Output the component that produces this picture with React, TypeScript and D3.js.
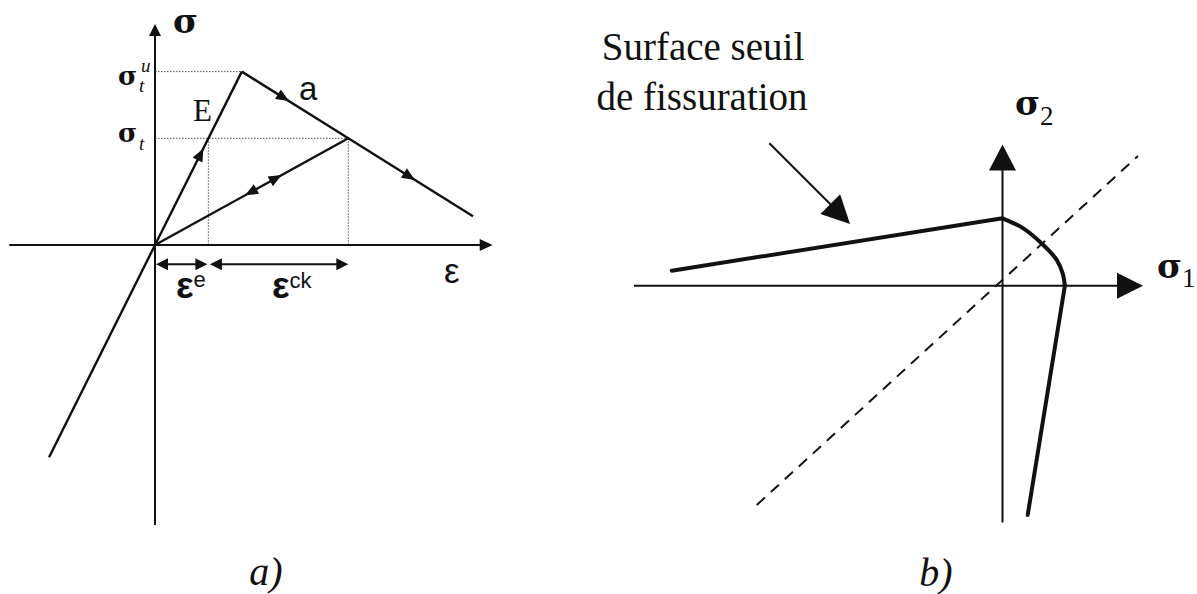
import React from 'react';
import * as d3 from 'd3';

// ---------- (a) strain–stress diagram, normalised so the unloading point is (1, 1) ----------
const leftAxisX: number[] = [-0.754, 1.747];
const leftAxisY: number[] = [-2.624, 2.071];
const elasticLine: [number, number][] = [[-0.548, -1.99], [0, 0], [0.449, 1.625]];
const softeningLine: [number, number][] = [[0.449, 1.625], [1.0, 1.0], [1.645, 0.27]];
const unloadLine: [number, number][] = [[0, 0], [1.0, 1.0]];
const peakPoint: [number, number] = [0.449, 1.625];
const sigmaTPoint: [number, number] = [0.276, 1.0];
const unloadPoint: [number, number] = [1.0, 1.0];
const elasticArrowsT: number[] = [0.557];
const softeningArrowsT: number[] = [0.204, 0.749];
const unloadArrows = [{ t: 0.466, dir: -1 }, { t: 0.655, dir: 1 }];
const dimY = -0.181;

// ---------- (b) crack threshold surface in principal stress plane ----------
const rightAxisX: number[] = [-5.85, 2.23];
const rightAxisY: number[] = [-3.76, 2.24];
const surfaceLeft: [number, number][] = [[-5.25, 0.238], [0, 1.07]];
const surfaceCurve: [number, number][] = [[0, 1.07], [0.33, 0.91], [0.648, 0.646], [0.86, 0.41], [0.955, 0.197], [0.99, 0]];
const surfaceLower: [number, number][] = [[0.99, 0], [0.4, -3.64]];
const bisector: [number, number][] = [[-3.9, -3.48], [2.15, 2.06]];
const pointer: [number, number][] = [[-3.70, 2.26], [-2.42, 0.98]];
const surfaceLabel: string[] = ['Surface seuil', 'de fissuration'];

const xL = d3.scaleLinear().domain([0, 1]).range([155, 348.3]);
const yL = d3.scaleLinear().domain([0, 1]).range([245, 138.3]);
const xR = d3.scaleLinear().domain([0, 1]).range([1002.5, 1065.5]);
const yR = d3.scaleLinear().domain([0, 1]).range([285.7, 222.7]);

const SERIF = '"Liberation Serif", "Times New Roman", serif';
const GREEK = '"DejaVu Serif", "Liberation Serif", serif';
const SANS = '"Liberation Sans", Arial, sans-serif';

type P = [number, number];

function head(tip: P, from: P, L: number, W: number): string {
  const dx = tip[0] - from[0], dy = tip[1] - from[1];
  const n = Math.hypot(dx, dy) || 1;
  const ux = dx / n, uy = dy / n;
  const bx = tip[0] - L * ux, by = tip[1] - L * uy;
  return `M${tip[0]},${tip[1]}L${bx - W * uy},${by + W * ux}L${bx + W * uy},${by - W * ux}Z`;
}

function lerp(a: P, b: P, t: number): P {
  return [a[0] + (b[0] - a[0]) * t, a[1] + (b[1] - a[1]) * t];
}

export default function App() {
  const lineL = d3.line<P>().x(d => xL(d[0])).y(d => yL(d[1]));
  const lineR = d3.line<P>().x(d => xR(d[0])).y(d => yR(d[1]));
  const curveR = d3.line<P>().x(d => xR(d[0])).y(d => yR(d[1])).curve(d3.curveCatmullRom.alpha(0.5));

  const pL = (d: P): P => [xL(d[0]), yL(d[1])];
  const pR = (d: P): P => [xR(d[0]), yR(d[1])];

  const o = pL([0, 0]);
  const pk = pL(peakPoint);
  const st = pL(sigmaTPoint);
  const up = pL(unloadPoint);
  const softEnd = pL(softeningLine[2]);

  const inline: string[] = [];
  elasticArrowsT.forEach(t => {
    const tip = lerp(o, pk, t);
    inline.push(head(tip, o, 13, 5.5));
  });
  softeningArrowsT.forEach(t => {
    const tip = lerp(pk, softEnd, t);
    inline.push(head(tip, pk, 13, 5.5));
  });
  unloadArrows.forEach(a => {
    const tip = lerp(o, up, a.t);
    inline.push(head(tip, a.dir > 0 ? o : up, 13, 5.5));
  });

  const dimYp = yL(dimY);
  const e0 = xL(0), e1 = st[0], e2 = up[0];

  const axL = { x0: xL(leftAxisX[0]), x1: xL(leftAxisX[1]), y0: yL(leftAxisY[0]), y1: yL(leftAxisY[1]) };
  const axR = { x0: xR(rightAxisX[0]), x1: xR(rightAxisX[1]), y0: yR(rightAxisY[0]), y1: yR(rightAxisY[1]) };
  const oR = pR([0, 0]);

  const pt0 = pR(pointer[0]);
  const pt1 = pR(pointer[1]);
  const ptBase = lerp(pt1, pt0, 26 / Math.hypot(pt1[0] - pt0[0], pt1[1] - pt0[1]));

  return (
    <svg width={1197} height={594} style={{ position: 'absolute', left: 0, top: 0, background: '#fff' }}>
      {/* ===== (a) ===== */}
      <g stroke="#555" strokeWidth={1} strokeDasharray="1.5,1.5" fill="none">
        <line x1={o[0]} y1={pk[1]} x2={pk[0]} y2={pk[1]} />
        <line x1={o[0]} y1={up[1]} x2={up[0]} y2={up[1]} />
        <line x1={st[0]} y1={st[1]} x2={st[0]} y2={o[1]} />
        <line x1={up[0]} y1={up[1]} x2={up[0]} y2={o[1]} />
      </g>
      <g stroke="#111" strokeWidth={2} fill="none">
        <line x1={axL.x0} y1={o[1]} x2={axL.x1 - 10} y2={o[1]} />
        <line x1={o[0]} y1={axL.y0} x2={o[0]} y2={axL.y1 + 10} />
      </g>
      <path d={head([axL.x1, o[1]], [axL.x0, o[1]], 13, 6)} fill="#111" />
      <path d={head([o[0], axL.y1], [o[0], axL.y0], 12, 6)} fill="#111" />
      <g stroke="#111" strokeWidth={2.4} fill="none" strokeLinejoin="miter">
        <path d={lineL(elasticLine) || ''} />
        <path d={lineL(softeningLine) || ''} />
        <path d={lineL(unloadLine) || ''} />
      </g>
      {inline.map((d, i) => <path key={i} d={d} fill="#111" />)}
      <g stroke="#111" strokeWidth={2} fill="none">
        <line x1={e0 + 8} y1={dimYp} x2={e1 - 8} y2={dimYp} />
        <line x1={e1 + 9} y1={dimYp} x2={e2 - 8} y2={dimYp} />
      </g>
      <g fill="#111">
        <path d={head([e0 + 1, dimYp], [e1, dimYp], 12, 6)} />
        <path d={head([e1 - 1, dimYp], [e0, dimYp], 12, 6)} />
        <path d={head([e1 + 1.5, dimYp], [e2, dimYp], 12, 6)} />
        <path d={head([e2, dimYp], [e1, dimYp], 12, 6)} />
      </g>
      <g fill="#111">
        <text x={o[0] + 18} y={33} fontFamily={GREEK} fontWeight="bold" fontSize={34}>σ</text>
        <text x={118} y={pk[1] + 13} fontFamily={GREEK} fontWeight="bold" fontSize={26}>σ</text>
        <text x={139} y={pk[1] + 20} fontFamily={SERIF} fontStyle="italic" fontSize={19}>t</text>
        <text x={141} y={pk[1]} fontFamily={SERIF} fontStyle="italic" fontSize={19}>u</text>
        <text x={118} y={up[1] + 4} fontFamily={GREEK} fontWeight="bold" fontSize={26}>σ</text>
        <text x={139} y={up[1] + 12} fontFamily={SERIF} fontStyle="italic" fontSize={19}>t</text>
        <text x={193} y={121} fontFamily={SERIF} fontSize={31}>E</text>
        <text x={299} y={100} fontFamily={SANS} fontSize={33}>a</text>
        <text x={444} y={283} fontFamily={SANS} fontSize={35}>ε</text>
        <text x={176} y={298} fontFamily={SANS} fontSize={37} fontWeight={600}>ε<tspan fontSize={22} fontWeight={400} dy={-11}>e</tspan></text>
        <text x={272} y={298} fontFamily={SANS} fontSize={37} fontWeight={600}>ε<tspan fontSize={22} fontWeight={400} dy={-10}>ck</tspan></text>
        <text x={266} y={585} textAnchor="middle" fontFamily={SERIF} fontStyle="italic" fontSize={40}>a)</text>
      </g>

      {/* ===== (b) ===== */}
      <g stroke="#111" strokeWidth={2} fill="none">
        <line x1={axR.x0} y1={oR[1]} x2={axR.x1 - 20} y2={oR[1]} />
        <line x1={oR[0]} y1={axR.y0} x2={oR[0]} y2={axR.y1 + 20} />
      </g>
      <path d={head([axR.x1, oR[1]], [axR.x0, oR[1]], 26, 13)} fill="#111" />
      <path d={head([oR[0], axR.y1], [oR[0], axR.y0], 26, 13.5)} fill="#111" />
      <path d={lineR(bisector) || ''} stroke="#111" strokeWidth={2} strokeDasharray="11,8" fill="none" />
      <g stroke="#111" strokeWidth={4} fill="none" strokeLinecap="round" strokeLinejoin="round">
        <path d={lineR(surfaceLeft) || ''} />
        <path d={curveR(surfaceCurve) || ''} />
        <path d={lineR(surfaceLower) || ''} />
      </g>
      <line x1={pt0[0]} y1={pt0[1]} x2={ptBase[0]} y2={ptBase[1]} stroke="#111" strokeWidth={2} />
      <path d={head(pt1, pt0, 28, 14)} fill="#111" />
      <g fill="#111" fontFamily={SERIF}>
        <text x={703} y={60} textAnchor="middle" fontSize={39}>{surfaceLabel[0]}</text>
        <text x={702} y={110} textAnchor="middle" fontSize={39}>{surfaceLabel[1]}</text>
        <text x={1015} y={115} fontFamily={GREEK} fontWeight="bold" fontSize={34}>σ<tspan fontFamily={SERIF} fontWeight="normal" fontSize={27} dy={10}>2</tspan></text>
        <text x={1157} y={278} fontFamily={GREEK} fontWeight="bold" fontSize={34}>σ<tspan fontFamily={SERIF} fontWeight="normal" fontSize={27} dy={9}>1</tspan></text>
        <text x={936} y={586} textAnchor="middle" fontStyle="italic" fontSize={40}>b)</text>
      </g>
    </svg>
  );
}
